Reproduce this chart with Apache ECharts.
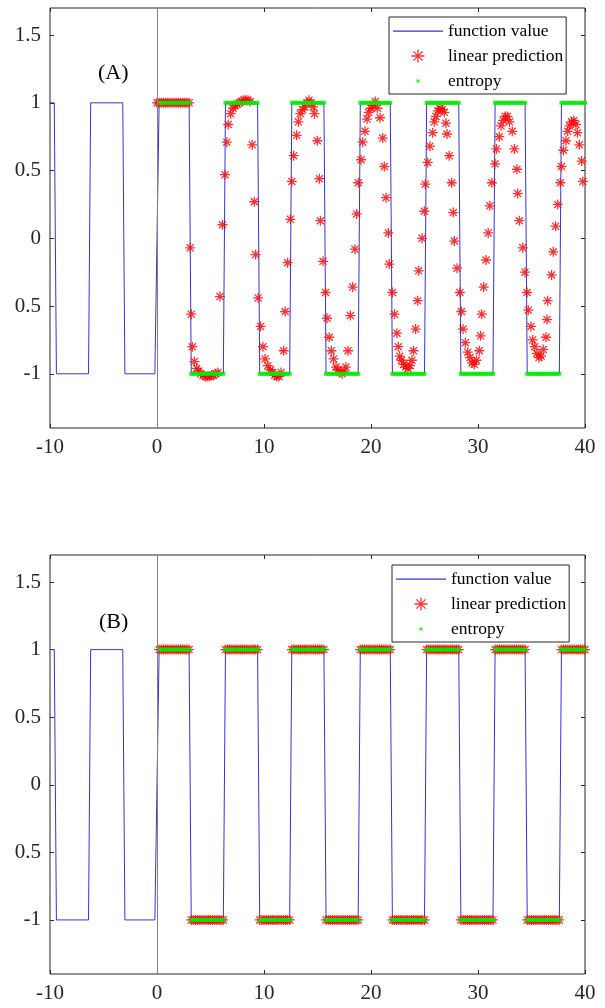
<!DOCTYPE html>
<html>
<head>
<meta charset="utf-8">
<script src="https://cdn.jsdelivr.net/npm/echarts@6/dist/echarts.min.js"></script>
<style>
  html, body { margin: 0; padding: 0; background: #fff; }
  #chart { width: 605px; height: 1008px; }
</style>
</head>
<body>
<div id="chart"></div>
<script>
// ---------- data ----------
const yTickValues = [-1, -0.5, 0, 0.5, 1, 1.5];
const yTickLabels = ['-1', '0.5', '0', '0.5', '1', '1.5'];

// square wave "function value": corner points of the polyline
const funcX = [-10, -9.6, -9.4, -6.4, -6.2, -3.2, -3.0, -0.2, 0, 0.2,
  3.0, 3.2, 6.2, 6.4, 9.4, 9.6, 12.4, 12.6, 15.6, 15.8,
  18.8, 19.0, 21.8, 22.0, 25.0, 25.2, 28.2, 28.4, 31.4, 31.6,
  34.4, 34.6, 37.6, 37.8, 40];
const funcY = [1, 1, -1, -1, 1, 1, -1, -1, 0, 1,
  1, -1, -1, 1, 1, -1, -1, 1, 1, -1,
  -1, 1, 1, -1, -1, 1, 1, -1, -1, 1,
  1, -1, -1, 1, 1];

// entropy: sample positions on each plateau and the plateau level
const entropyPlateauX = [
  [0.2,0.4,0.6,0.8,1,1.2,1.4,1.6,1.8,2,2.2,2.4,2.6,2.8,3],
  [3.2,3.4,3.6,3.8,4,4.2,4.4,4.6,4.8,5,5.2,5.4,5.6,5.8,6,6.2],
  [6.4,6.6,6.8,7,7.2,7.4,7.6,7.8,8,8.2,8.4,8.6,8.8,9,9.2,9.4],
  [9.6,9.8,10,10.2,10.4,10.6,10.8,11,11.2,11.4,11.6,11.8,12,12.2,12.4],
  [12.6,12.8,13,13.2,13.4,13.6,13.8,14,14.2,14.4,14.6,14.8,15,15.2,15.4,15.6],
  [15.8,16,16.2,16.4,16.6,16.8,17,17.2,17.4,17.6,17.8,18,18.2,18.4,18.6,18.8],
  [19,19.2,19.4,19.6,19.8,20,20.2,20.4,20.6,20.8,21,21.2,21.4,21.6,21.8],
  [22,22.2,22.4,22.6,22.8,23,23.2,23.4,23.6,23.8,24,24.2,24.4,24.6,24.8,25],
  [25.2,25.4,25.6,25.8,26,26.2,26.4,26.6,26.8,27,27.2,27.4,27.6,27.8,28,28.2],
  [28.4,28.6,28.8,29,29.2,29.4,29.6,29.8,30,30.2,30.4,30.6,30.8,31,31.2,31.4],
  [31.6,31.8,32,32.2,32.4,32.6,32.8,33,33.2,33.4,33.6,33.8,34,34.2,34.4],
  [34.6,34.8,35,35.2,35.4,35.6,35.8,36,36.2,36.4,36.6,36.8,37,37.2,37.4,37.6],
  [37.8,38,38.2,38.4,38.6,38.8,39,39.2,39.4,39.6,39.8,40]
];
const entropyLevels = [1, -1, 1, -1, 1, -1, 1, -1, 1, -1, 1, -1, 1];

// panel (B) linear prediction: same sample positions and levels as the entropy
const predictionBPlateauX = entropyPlateauX;
const predictionBLevels = [1, -1, 1, -1, 1, -1, 1, -1, 1, -1, 1, -1, 1];

// panel (A) linear prediction: [x, y] points
const predictionA = [
  [0,1],[0.2,1],[0.4,1],[0.6,1],[0.8,1],[1,1],[1.2,1],[1.4,1],[1.6,1],[1.8,1],[2,1],[2.2,1],[2.4,1],[2.6,1],[2.8,1],[3.0,1],
  [3.1,-0.07],[3.2,-0.56],[3.3,-0.80],[3.5,-0.91],[3.7,-0.96],[3.9,-0.98],[4.1,-1.0],[4.3,-1.01],[4.5,-1.02],[4.7,-1.02],[4.9,-1.02],[5.1,-1.01],[5.3,-1.01],[5.5,-1.0],[5.7,-0.99],
  [5.88,-0.43],[6.12,0.10],[6.36,0.47],[6.52,0.71],[6.66,0.84],[6.88,0.92],[7.1,0.96],[7.3,0.98],[7.5,0.99],[7.7,1.0],[7.9,1.01],[8.1,1.02],[8.3,1.02],[8.5,1.02],[8.7,1.01],
  [8.9,0.69],[9.1,0.27],[9.22,-0.12],[9.45,-0.44],[9.68,-0.65],[9.9,-0.80],[10.1,-0.89],[10.35,-0.94],[10.6,-0.97],[10.8,-0.99],[11.0,-1.01],[11.2,-1.02],[11.4,-1.02],[11.6,-0.99],
  [11.84,-0.83],[11.98,-0.54],[12.21,-0.18],[12.46,0.14],[12.6,0.42],[12.77,0.61],[13.05,0.76],[13.21,0.86],[13.39,0.92],[13.6,0.95],[13.8,0.97],[14.0,1.0],[14.2,1.02],[14.4,1.0],[14.6,0.97],
  [14.72,0.92],[14.98,0.72],[15.17,0.44],[15.27,0.13],[15.52,-0.17],[15.75,-0.40],[15.89,-0.59],[16.1,-0.73],[16.3,-0.83],[16.5,-0.89],[16.73,-0.95],[16.9,-0.97],[17.1,-0.99],[17.3,-1.0],[17.5,-0.98],[17.65,-0.95],
  [17.85,-0.83],[18.07,-0.57],[18.29,-0.36],[18.5,-0.08],[18.66,0.18],[18.81,0.41],[19.07,0.58],[19.22,0.71],[19.44,0.79],[19.63,0.88],[19.78,0.93],[20.0,0.96],[20.2,0.98],[20.4,1.01],[20.6,0.96],
  [20.85,0.89],[21.09,0.74],[21.24,0.53],[21.4,0.30],[21.62,0.04],[21.71,-0.19],[22.0,-0.40],[22.2,-0.56],[22.42,-0.70],[22.55,-0.80],[22.68,-0.87],[22.85,-0.90],[23.05,-0.93],[23.25,-0.95],[23.45,-0.96],[23.65,-0.94],[23.82,-0.90],
  [23.97,-0.83],[24.17,-0.67],[24.36,-0.46],[24.46,-0.24],[24.77,0.0],[24.98,0.20],[25.08,0.40],[25.3,0.56],[25.51,0.68],[25.76,0.78],[25.91,0.86],[26.07,0.90],[26.25,0.94],[26.45,0.96],[26.65,0.95],[26.85,0.93],
  [27.0,0.85],[27.1,0.77],[27.31,0.61],[27.54,0.41],[27.69,0.19],[27.79,-0.02],[28.04,-0.22],[28.3,-0.40],[28.45,-0.54],[28.6,-0.67],[28.82,-0.77],[29.04,-0.84],[29.25,-0.88],[29.45,-0.92],[29.65,-0.93],[29.85,-0.90],
  [30.12,-0.83],[30.24,-0.72],[30.35,-0.56],[30.53,-0.36],[30.75,-0.16],[30.95,0.04],[31.1,0.24],[31.3,0.41],[31.59,0.55],[31.72,0.66],[31.99,0.75],[32.15,0.83],[32.35,0.87],[32.55,0.90],[32.75,0.90],[32.95,0.86],
  [33.2,0.79],[33.4,0.66],[33.64,0.51],[33.71,0.33],[33.86,0.13],[34.18,-0.07],[34.39,-0.25],[34.58,-0.40],[34.7,-0.53],[34.95,-0.65],[35.11,-0.75],[35.3,-0.80],[35.5,-0.85],[35.7,-0.88],[35.9,-0.87],[36.1,-0.82],
  [36.36,-0.73],[36.45,-0.60],[36.51,-0.46],[36.88,-0.27],[37.03,-0.10],[37.25,0.09],[37.45,0.25],[37.69,0.41],[37.8,0.53],[37.98,0.65],[38.22,0.72],[38.38,0.79],[38.55,0.83],[38.75,0.86],[38.95,0.87],[39.15,0.84],[39.3,0.78],
  [39.47,0.69],[39.69,0.57],[39.8,0.42]
];

const seriesNames = ['function value', 'linear prediction', 'entropy'];
const panelLabels = ['(A)', '(B)'];

// ---------- build ----------
const funcData = funcX.map((x, i) => [x, funcY[i]]);
const entropyData = [];
entropyPlateauX.forEach((xs, k) => xs.forEach(x => entropyData.push([x, entropyLevels[k]])));
const predictionB = [];
predictionBPlateauX.forEach((xs, k) => xs.forEach(x => predictionB.push([x, predictionBLevels[k]])));

const starPath = 'path://M-5 0L5 0M0 -5L0 5M-3.54 -3.54L3.54 3.54M-3.54 3.54L3.54 -3.54';
const dotIcon = 'path://M0 0M13 13M5 5L8 5L8 8L5 8Z';
const lineIcon = 'path://M0 0M50 13M0 6L50 6L50 7.2L0 7.2Z';
const serif = 'Liberation Serif';
const axisColor = '#262626';
const blue = '#3434d6';

const grids = [
  { left: 50, top: 8, width: 535, height: 420 },
  { left: 50, top: 555, width: 535, height: 419 }
];

function yLabel(v) {
  const i = yTickValues.findIndex(t => Math.abs(t - v) < 1e-9);
  return i >= 0 ? yTickLabels[i] : '';
}

const xAxes = [], yAxes = [], series = [];
grids.forEach((g, gi) => {
  xAxes.push({
    gridIndex: gi, type: 'value', min: -10, max: 40, interval: 10, position: 'bottom',
    axisLine: { show: false, onZero: false },
    axisTick: { inside: true, length: 4, lineStyle: { color: axisColor } },
    axisLabel: { fontFamily: serif, fontSize: 21, color: axisColor, margin: 9 },
    splitLine: { show: false }
  });
  xAxes.push({
    gridIndex: gi, type: 'value', min: -10, max: 40, interval: 10, position: 'top',
    axisLine: { show: false, onZero: false },
    axisTick: { inside: true, length: 4, lineStyle: { color: axisColor } },
    axisLabel: { show: false }, splitLine: { show: false }
  });
  yAxes.push({
    gridIndex: gi, type: 'value', min: -1.4, max: 1.7, position: 'left',
    axisLine: { show: false, onZero: false },
    axisTick: { inside: true, length: 4, customValues: yTickValues, lineStyle: { color: axisColor } },
    axisLabel: { customValues: yTickValues, formatter: yLabel, fontFamily: serif, fontSize: 21, color: axisColor, margin: 9 },
    splitLine: { show: false }
  });
  yAxes.push({
    gridIndex: gi, type: 'value', min: -1.4, max: 1.7, position: 'right',
    axisLine: { show: false, onZero: false },
    axisTick: { inside: true, length: 4, customValues: yTickValues, lineStyle: { color: axisColor } },
    axisLabel: { show: false }, splitLine: { show: false }
  });
  const xi = gi * 2, yi = gi * 2;
  series.push({
    name: seriesNames[0], type: 'line', xAxisIndex: xi, yAxisIndex: yi,
    data: funcData, symbol: 'none', showSymbol: false,
    lineStyle: { color: blue, width: 1 }, itemStyle: { color: blue },
    z: 2,
    markLine: {
      silent: true, symbol: 'none', label: { show: false },
      lineStyle: { color: '#808080', width: 1, type: 'solid' },
      data: [{ xAxis: 0 }]
    }
  });
  series.push({
    name: seriesNames[1], type: 'scatter', xAxisIndex: xi, yAxisIndex: yi,
    data: gi === 0 ? predictionA : predictionB,
    symbol: starPath, symbolSize: 10, symbolKeepAspect: true,
    itemStyle: { color: '#ff0000', borderColor: '#ff0000', borderWidth: 1.3 },
    z: 3
  });
  series.push({
    name: seriesNames[2], type: 'scatter', xAxisIndex: xi, yAxisIndex: yi,
    data: entropyData, symbol: 'rect', symbolSize: 4,
    itemStyle: { color: '#00ee00' }, z: 4
  });
});

const legendBase = {
  orient: 'vertical', itemWidth: 50, itemHeight: 13, itemGap: 7,
  padding: [5, 3, 4, 4], backgroundColor: '#fff', borderColor: axisColor, borderWidth: 1,
  textStyle: { fontFamily: serif, fontSize: 17.5, color: '#000' },
  selectedMode: false,
  data: [
    { name: seriesNames[0], icon: lineIcon, itemStyle: { color: blue, borderWidth: 0 } },
    { name: seriesNames[1], icon: starPath, itemStyle: { borderWidth: 1.3 } },
    { name: seriesNames[2], icon: dotIcon }
  ]
};

const option = {
  animation: false,
  backgroundColor: '#fff',
  grid: grids.map(g => Object.assign({ show: true, borderColor: axisColor, borderWidth: 1, backgroundColor: 'transparent' }, g)),
  xAxis: xAxes,
  yAxis: yAxes,
  legend: [
    Object.assign({ left: 389, top: 17 }, legendBase),
    Object.assign({ left: 392, top: 565 }, legendBase)
  ],
  graphic: [
    { type: 'text', left: 98, top: 62, style: { text: panelLabels[0], font: '22px "Liberation Serif"', fill: '#000' } },
    { type: 'text', left: 99, top: 611, style: { text: panelLabels[1], font: '22px "Liberation Serif"', fill: '#000' } }
  ],
  series: series
};

const chart = echarts.init(document.getElementById('chart'), null, { renderer: 'canvas' });
chart.setOption(option);
</script>
</body>
</html>
